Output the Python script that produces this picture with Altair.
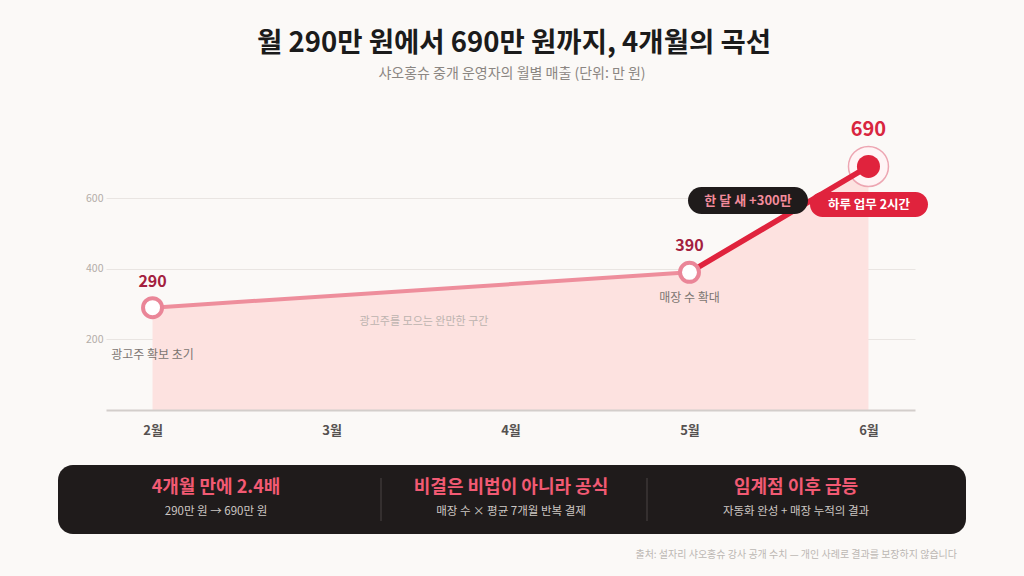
import altair as alt
import pandas as pd

# ---- data ----
MONTHS = ["2월", "3월", "4월", "5월", "6월"]
POINT_MONTHS = ["2월", "5월", "6월"]
REVENUE = [290, 390, 690]
Y_TICKS = [200, 400, 600]

TITLE = "월 290만 원에서 690만 원까지, 4개월의 곡선"
SUBTITLE = "샤오홍슈 중개 운영자의 월별 매출 (단위: 만 원)"
NOTE_START = "광고주 확보 초기"
NOTE_MID = "매장 수 확대"
SLOPE_NOTE = "광고주를 모으는 완만한 구간"
JUMP_BADGE = "한 달 새 +300만"
WORK_BADGE = "하루 업무 2시간"
CARD_TITLES = ["4개월 만에 2.4배", "비결은 비법이 아니라 공식", "임계점 이후 급등"]
CARD_NOTES = ["290만 원 → 690만 원", "매장 수 × 평균 7개월 반복 결제", "자동화 완성 + 매장 누적의 결과"]
SOURCE = "출처: 설자리 샤오홍슈 강사 공개 수치 — 개인 사례로 결과를 보장하지 않습니다"

# ---- layout (page pixels) ----
FONT = "Noto Sans CJK KR"
LEFT, TOP, W, H = 106, 110, 809, 300
CARD_X = [216, 511, 796]
DIVIDER_X = [381, 647]


def px(x):
    return x - LEFT


def py(y):
    return y - TOP


series = pd.DataFrame({"month": POINT_MONTHS, "revenue": REVENUE})
series["label"] = series["revenue"].astype(str)
slow = series.iloc[0:2]
fast = series.iloc[1:3]
peak = series.iloc[2:3]
one = pd.DataFrame({"k": [0]})

X = alt.X(
    "month:O",
    scale=alt.Scale(type="point", domain=MONTHS, padding=0.26),
    axis=alt.Axis(
        title=None, labelAngle=0, labelFontWeight="bold", labelColor="#555150",
        labelFontSize=13, labelPadding=14, ticks=False, grid=False,
        domainColor="#d3cecb", domainWidth=2, zindex=1,
    ),
)
Y = alt.Y(
    "revenue:Q",
    scale=alt.Scale(domain=[0, 850], nice=False),
    axis=alt.Axis(
        title=None, values=Y_TICKS, grid=True, gridColor="#e9e5e2", gridWidth=1,
        domain=False, ticks=False, labelColor="#b3ada8", labelFontSize=10.5,
        labelPadding=3,
    ),
)


def pixel_text(text, x, y, **kw):
    return alt.Chart(one).mark_text(baseline="middle", **kw).encode(
        x=alt.value(px(x)), y=alt.value(py(y)), text=alt.value(text)
    )


def pill(x1, x2, y1, y2, color):
    return alt.Chart(one).mark_rect(cornerRadius=(y2 - y1) / 2, color=color).encode(
        x=alt.value(px(x1)), x2=alt.value(px(x2)), y=alt.value(py(y1)), y2=alt.value(py(y2))
    )


# headline
title = pixel_text(TITLE, 514, 44, fontSize=27.5, fontWeight="bold", color="#1b1b1b")
subtitle = pixel_text(SUBTITLE, 512, 74, fontSize=14, color="#8b8682")

# revenue curve
area = alt.Chart(series).mark_area(color="#fde2e0").encode(x=X, y=Y)
line_slow = alt.Chart(slow).mark_line(color="#ee8e9c", strokeWidth=4).encode(x=X, y=Y)
halo = alt.Chart(peak).mark_point(
    shape="circle", filled=True, size=1600, fill="#fff4f5", stroke="#eda6b2",
    strokeWidth=1.5, opacity=1,
).encode(x=X, y=Y)
line_fast = alt.Chart(fast).mark_line(
    color="#e0233d", strokeWidth=5.5, strokeCap="round"
).encode(x=X, y=Y)
open_dots = alt.Chart(slow).mark_point(
    shape="circle", filled=True, size=360, fill="white", stroke="#ea8698",
    strokeWidth=4, opacity=1,
).encode(x=X, y=Y)
peak_dot = alt.Chart(peak).mark_point(
    shape="circle", filled=True, size=530, fill="#e0233d", opacity=1
).encode(x=X, y=Y)

value_labels = alt.Chart(slow).mark_text(
    dy=-26, fontSize=16, fontWeight="bold", color="#a3203e", baseline="middle"
).encode(x=X, y=Y, text="label:N")
peak_label = alt.Chart(peak).mark_text(
    dy=-36, fontSize=20, fontWeight="bold", color="#d8263f", baseline="middle"
).encode(x=X, y=Y, text="label:N")

note_start = alt.Chart(series.iloc[0:1]).mark_text(
    dy=47, fontSize=12, color="#7b7571", baseline="middle"
).encode(x=X, y=Y, text=alt.value(NOTE_START))
note_mid = alt.Chart(series.iloc[1:2]).mark_text(
    dy=26, fontSize=12, color="#7b7571", baseline="middle"
).encode(x=X, y=Y, text=alt.value(NOTE_MID))
slope_note = pixel_text(SLOPE_NOTE, 424, 322, fontSize=11, color="#bcb3af")

# badges
jump_pill = pill(688, 808, 187, 214, "#1f1b1b")
jump_text = pixel_text(JUMP_BADGE, 748, 200.5, fontSize=13, fontWeight="bold", color="#f28b9b")
work_pill = pill(810, 928, 192, 217, "#e0233d")
work_text = pixel_text(WORK_BADGE, 869, 204.5, fontSize=12.5, fontWeight="bold", color="white")

# summary band
band = alt.Chart(one).mark_rect(cornerRadius=15, color="#1f1b1b").encode(
    x=alt.value(px(58)), x2=alt.value(px(966)), y=alt.value(py(465)), y2=alt.value(py(534))
)
dividers = alt.Chart(pd.DataFrame({"x": [px(v) for v in DIVIDER_X]})).mark_rule(
    color="#4a4444", strokeWidth=1
).encode(x=alt.X("x:Q", scale=None), y=alt.value(py(478)), y2=alt.value(py(521)))
cards = pd.DataFrame({"x": [px(v) for v in CARD_X], "title": CARD_TITLES, "note": CARD_NOTES})
card_titles = alt.Chart(cards).mark_text(
    fontSize=18, fontWeight="bold", color="#f25a73", baseline="middle"
).encode(x=alt.X("x:Q", scale=None), y=alt.value(py(488)), text="title:N")
card_notes = alt.Chart(cards).mark_text(
    fontSize=11.5, color="#cdc7c3", baseline="middle"
).encode(x=alt.X("x:Q", scale=None), y=alt.value(py(512)), text="note:N")

source = pixel_text(SOURCE, 957, 555, fontSize=10, color="#bcb7b3", align="right")

chart = alt.layer(
    area, line_slow, halo, line_fast, open_dots, peak_dot,
    value_labels, peak_label, note_start, note_mid, slope_note,
    jump_pill, jump_text, work_pill, work_text,
    title, subtitle,
    band, dividers, card_titles, card_notes, source,
).properties(
    width=W, height=H,
    padding={"left": LEFT, "top": TOP, "right": 1024 - LEFT - W, "bottom": 576 - TOP - H},
    autosize=alt.AutoSizeParams(type="none"),
    background="#fbf9f7",
).configure_view(stroke=None).configure_axis(
    labelFont=FONT
).configure_text(font=FONT)

chart.save("out.html", embed_options={"renderer": "svg", "actions": False})
